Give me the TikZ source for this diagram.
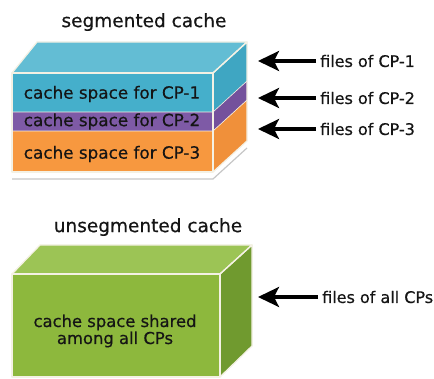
\documentclass[tikz,border=0pt]{standalone}
\usepackage{fontspec}
\setmainfont{DejaVu Sans}[FakeBold=0.5]
\usetikzlibrary{arrows.meta}
\definecolor{bluefront}{HTML}{45AFCB}
\definecolor{bluetop}{HTML}{63BDD4}
\definecolor{blueside}{HTML}{3FA6C2}
\definecolor{purplefront}{HTML}{7E5AA6}
\definecolor{purpleside}{HTML}{74519C}
\definecolor{orangefront}{HTML}{F7983F}
\definecolor{orangeside}{HTML}{F0903A}
\definecolor{greenfront}{HTML}{8DB83D}
\definecolor{greentop}{HTML}{9CC455}
\definecolor{greenside}{HTML}{709A2F}
\definecolor{edgecol}{HTML}{F4F1E4}
\definecolor{txt}{HTML}{151515}
\tikzset{
  face/.style={draw=edgecol, line width=1.3pt, line join=round},
  title/.style={font=\fontsize{18.5}{22}\selectfont, text=txt, inner sep=0pt},
  inlabel/.style={font=\fontsize{16.8}{20}\selectfont, text=txt, inner sep=0pt},
  sidelabel/.style={font=\fontsize{16}{19}\selectfont, text=txt, anchor=west, inner sep=0pt},
  arr/.style={line width=3.2pt, -{Stealth[length=21pt,width=20pt,inset=5pt]}, shorten <=4pt},
}
\begin{document}
\begin{tikzpicture}[x=1pt,y=-1pt]
\useasboundingbox (0,0) rectangle (434,379);
% ---------- segmented cache ----------
\node[title] (t1) at (144,22) {segmented cache};
% shadow line
\draw[gray!45, line width=1.2pt] (12,179) -- (213,179) -- (247,148);
% top face
\fill[bluetop] (12,73) -- (37,42) -- (247,42) -- (213,73) -- cycle;
% right face layers
\fill[blueside] (213,73) -- (247,42) -- (247,81) -- (213,112) -- cycle;
\fill[purpleside] (213,112) -- (247,81) -- (247,100) -- (213,131) -- cycle;
\fill[orangeside] (213,131) -- (247,100) -- (247,141) -- (213,172) -- cycle;
% front layers
\fill[bluefront] (12,73) rectangle (213,112);
\fill[purplefront] (12,112) rectangle (213,131);
\fill[orangefront] (12,131) rectangle (213,172);
% edges
\draw[face] (12,73) -- (37,42) -- (247,42) -- (213,73) -- cycle;
\draw[face] (213,73) -- (247,42) -- (247,141) -- (213,172);
\draw[face] (12,73) rectangle (213,172);
\draw[edgecol, line width=0.6pt] (12,112) -- (213,112) -- (247,81);
\draw[edgecol, line width=0.6pt] (12,131) -- (213,131) -- (247,100);
\node[inlabel] (c1) at (112,94) {cache space for CP-1};
\node[inlabel] (c2) at (112,121.5) {cache space for CP-2};
\node[inlabel] (c3) at (112,154) {cache space for CP-3};
% arrows
\node[sidelabel] (f1) at (320,61) {files of CP-1};
\node[sidelabel] (f2) at (320,98) {files of CP-2};
\node[sidelabel] (f3) at (320,129) {files of CP-3};
\coordinate (a1) at (258,61);
\coordinate (a2) at (258,98);
\coordinate (a3) at (258,129);
\draw[arr] (f1.west) -- (a1);
\draw[arr] (f2.west) -- (a2);
\draw[arr] (f3.west) -- (a3);
% ---------- unsegmented cache ----------
\node[title] (t2) at (148,227) {unsegmented cache};
\fill[greentop] (12,274) -- (40,245) -- (252,245) -- (220,274) -- cycle;
\fill[greenside] (220,274) -- (252,245) -- (252,346) -- (220,377) -- cycle;
\fill[greenfront] (12,274) rectangle (220,377);
\draw[face] (12,274) -- (40,245) -- (252,245) -- (220,274) -- cycle;
\draw[face] (220,274) -- (252,245) -- (252,346) -- (220,377);
\draw[face] (12,274) rectangle (220,377);
\node[inlabel, anchor=base, font=\fontsize{16.4}{18}\selectfont] (g1) at (115,327) {cache space shared};
\node[inlabel, anchor=base, font=\fontsize{16.4}{18}\selectfont] (g2) at (115,344) {among all CPs};
\node[sidelabel] (f4) at (322,297) {files of all CPs};
\coordinate (a4) at (258,297);
\draw[arr] (f4.west) -- (a4);
\end{tikzpicture}
\end{document}
